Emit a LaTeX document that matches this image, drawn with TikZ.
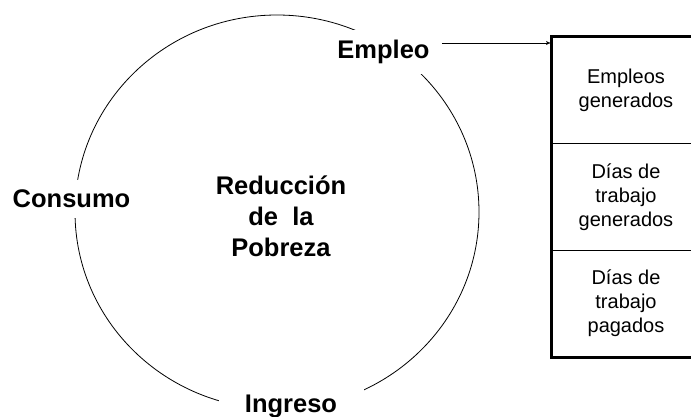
\documentclass[tikz,border=0pt]{standalone}
\usepackage{fontspec}
\setmainfont{Liberation Sans}
\usetikzlibrary{shapes,arrows}
\tikzset{%
    etiqueta/.style = {font=\fontsize{25.5}{31}\selectfont\bfseries, align=center, fill=white, inner xsep=4pt, inner ysep=10pt},
    celda/.style = {draw, line width=0.9pt, rectangle, align=center, minimum width=148pt, minimum height=106.67pt, font=\fontsize{20}{24}\selectfont},
}

\begin{document}
\begin{tikzpicture}[auto, x=1pt, y=-1pt, >=latex']
        \useasboundingbox (0,0) rectangle (691,417);
        \clip (0,0) rectangle (691,417);
        \draw
            node at (277,212) [ellipse, draw, line width=0.8pt, minimum width=404pt, minimum height=394pt, inner sep=0pt] (ciclo) {}
            node at (383.5,52) [etiqueta] (empleo) {Empleo}
            node at (71.5,199) [etiqueta] (consumo) {Consumo}
            node at (291,406.5) [etiqueta, minimum width=145pt] (ingreso) {Ingreso}
            node at (281,216) [etiqueta, fill=none] (pobreza)
            {
                Reducción\\
                de~ la\\
                Pobreza
            }
            node at (626,90.3) [celda] (uno)
            {
                Empleos\\
                generados
            }
            node at (626,197) [celda] (dos)
            {
                Días de\\
                trabajo\\
                generados
            }
            node at (626,303.7) [celda] (tres)
            {
                Días de\\
                trabajo\\
                pagados
            };

        \draw[line width=2.5pt] (uno.north west) rectangle (tres.south east);
        \draw[->, line width=0.9pt] ([xshift=8pt, yshift=9pt]empleo.east) -- ([yshift=9pt]empleo.east -| uno.west);
    \end{tikzpicture}
\end{document}
